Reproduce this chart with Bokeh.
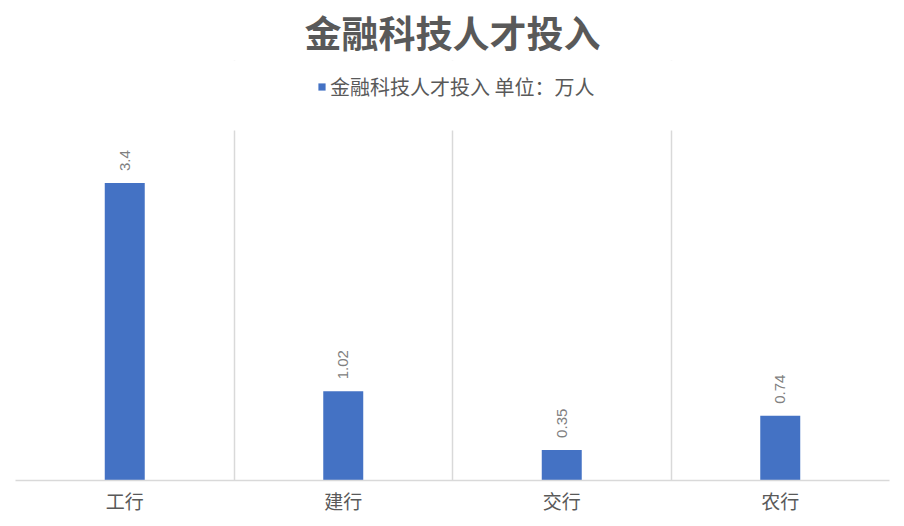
import math
from bokeh.plotting import figure
from bokeh.models import (ColumnDataSource, Legend, LegendItem, Title, FixedTicker,
                          Range1d, BoxAnnotation)
from bokeh.core.properties import value
from bokeh.embed import file_html
from bokeh.resources import INLINE

# ---- data ----
categories = ["工行", "建行", "交行", "农行"]
values = [3.4, 1.02, 0.35, 0.74]
value_labels = ["3.4", "1.02", "0.35", "0.74"]
series_name = "金融科技人才投入 单位：万人"
chart_title = "金融科技人才投入"
axis_max = 4

CJK = "Noto Sans CJK SC"
GRAY = "#595959"
BLUE = "#4472C4"

source = ColumnDataSource(data=dict(cat=categories, val=values, lab=value_labels))

p = figure(
    x_range=categories, y_range=Range1d(0, 4.8),
    width=904, height=526,
    output_backend="svg", toolbar_location=None, title=None,
    min_border_left=15, min_border_right=15, min_border_top=60, min_border_bottom=46,
)
p.background_fill_color = "white"
p.border_fill_color = "white"
p.outline_line_color = None

r = p.vbar(x="cat", top="val", width=0.183, source=source,
           fill_color=BLUE, line_color=None)

p.text(x="cat", y="val", text="lab", source=source, angle=math.pi / 2,
       text_align="left", text_baseline="middle", y_offset=-12,
       text_font=value("Liberation Sans"), text_font_size="15px",
       text_color="#808080")

# axes
p.yaxis.visible = False
xa = p.xaxis[0]
xa.axis_line_color = "#d9d9d9"
xa.axis_line_width = 1.5
xa.major_tick_line_color = None
xa.minor_tick_line_color = None
xa.major_tick_out = 0
xa.major_tick_in = 0
xa.major_label_standoff = 6
xa.major_label_text_font = CJK
xa.major_label_text_font_size = "19px"
xa.major_label_text_color = GRAY

# grid: separators between categories, only up to the axis maximum
p.ygrid.visible = False
p.xgrid.ticker = FixedTicker(ticks=[0, 1, 2, 3, 4])
p.xgrid.grid_line_color = "#d9d9d9"
p.xgrid.grid_line_width = 1.5
p.add_layout(BoxAnnotation(bottom=axis_max, fill_color="white", fill_alpha=1,
                           line_color=None))

legend = Legend(items=[LegendItem(label=series_name, renderers=[r])],
                orientation="horizontal", location=(302, 379),
                border_line_color=None, background_fill_alpha=0,
                label_text_font=CJK, label_text_font_size="20px",
                label_text_color=GRAY, glyph_width=9, glyph_height=9,
                label_standoff=4, padding=0, margin=0, spacing=0)
p.add_layout(legend, "center")

title = Title(text=chart_title, align="center", text_font=CJK,
              text_font_size="37px", text_font_style="bold",
              text_color=GRAY, standoff=4)
p.add_layout(title, "above")

open("out.html", "w").write(file_html(p, INLINE))
